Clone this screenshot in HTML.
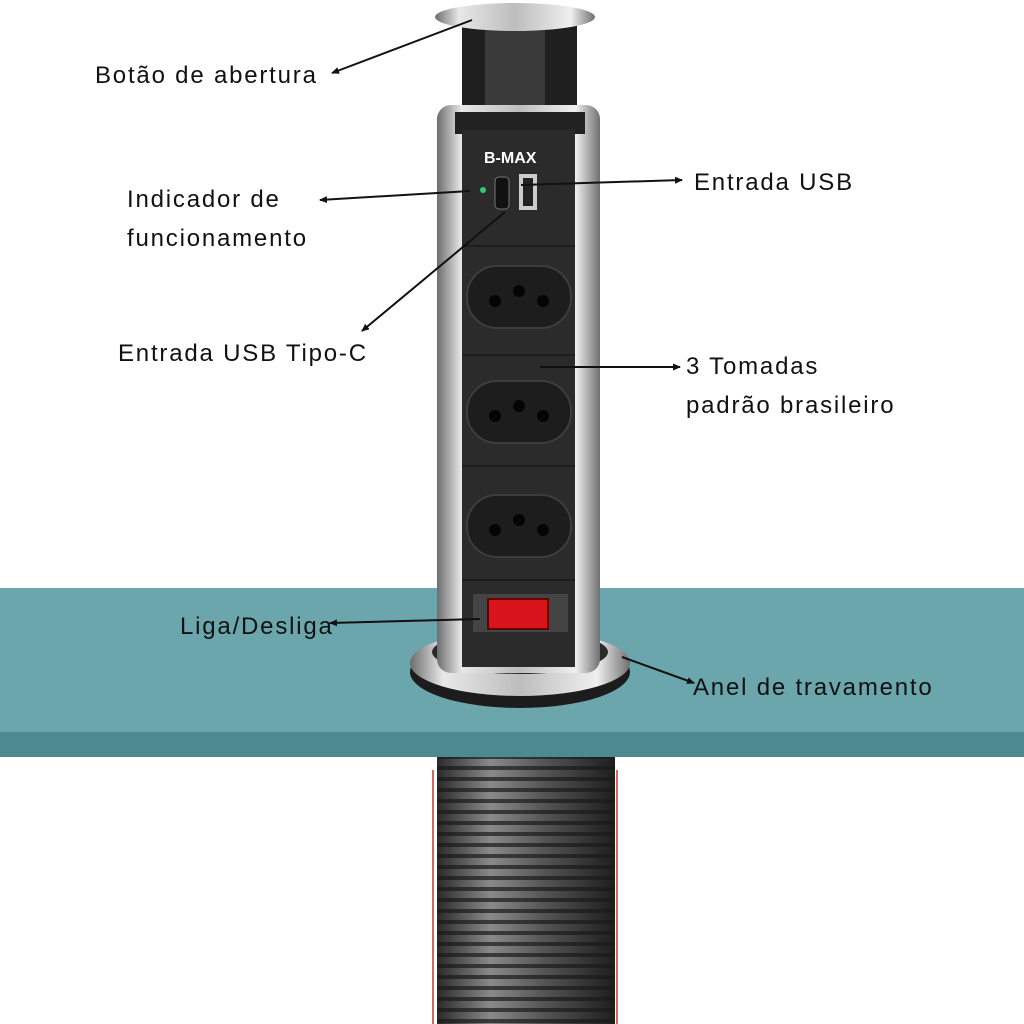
<!DOCTYPE html>
<html><head><meta charset="utf-8"><style>
html,body{margin:0;padding:0;background:#fff;}
svg{display:block;}
text{font-family:"Liberation Sans",sans-serif;font-size:24px;letter-spacing:1.8px;fill:#111;}
</style></head><body>
<svg width="1024" height="1024" viewBox="0 0 1024 1024">
<defs>
<linearGradient id="silv" x1="0" x2="1">
<stop offset="0" stop-color="#6d6d6d"/><stop offset="0.15" stop-color="#e8e8e8"/><stop offset="0.5" stop-color="#bdbdbd"/><stop offset="0.85" stop-color="#efefef"/><stop offset="1" stop-color="#707070"/></linearGradient>
<linearGradient id="thr" x1="0" x2="1">
<stop offset="0" stop-color="#2a2a2a"/><stop offset="0.3" stop-color="#8a8a8a"/><stop offset="0.6" stop-color="#555"/><stop offset="1" stop-color="#1e1e1e"/></linearGradient>
<pattern id="lines" width="10" height="11" patternUnits="userSpaceOnUse"><rect width="10" height="11" fill="none"/><rect y="7" width="10" height="4" fill="#1a1a1a" opacity="0.7"/></pattern>
<marker id="ah" markerWidth="8" markerHeight="8" refX="7" refY="4" orient="auto" markerUnits="userSpaceOnUse"><path d="M0,0.5 L8,4 L0,7.5 z" fill="#111"/></marker>
</defs>
<rect x="437" y="750" width="178" height="274" fill="url(#thr)"/>
<rect x="437" y="750" width="178" height="274" fill="url(#lines)"/>
<line x1="433" y1="770" x2="433" y2="1024" stroke="#c0392b" stroke-width="1.5"/>
<line x1="617" y1="770" x2="617" y2="1024" stroke="#c0392b" stroke-width="1.5"/>
<rect x="0" y="588" width="1024" height="145" fill="#6aa6ab"/>
<rect x="0" y="732" width="1024" height="25" fill="#4d8a90"/>
<ellipse cx="520" cy="672" rx="110" ry="36" fill="#1c1c1c"/>
<ellipse cx="520" cy="663" rx="110" ry="33" fill="url(#silv)"/>
<ellipse cx="520" cy="652" rx="88" ry="22" fill="#2a2a2a"/>
<rect x="462" y="25" width="115" height="95" fill="#1f1f1f"/>
<rect x="485" y="30" width="60" height="85" fill="#3a3a3a"/>
<ellipse cx="515" cy="17" rx="80" ry="14" fill="url(#silv)"/>
<rect x="437" y="105" width="163" height="568" rx="14" fill="url(#silv)"/>
<rect x="455" y="112" width="130" height="22" fill="#222"/>
<rect x="462" y="130" width="113" height="537" fill="#2b2b2b"/>
<text x="484" y="163" style="font-size:16px;font-weight:bold;fill:#fff;letter-spacing:0">B-MAX</text>
<circle cx="483" cy="190" r="3" fill="#2ecc71"/>
<rect x="495" y="177" width="14" height="32" rx="4" fill="#111" stroke="#777"/>
<rect x="519" y="174" width="18" height="36" fill="#ccc"/><rect x="523" y="178" width="10" height="28" fill="#222"/>
<g stroke="#1a1a1a" stroke-width="1.5"><line x1="462" y1="246" x2="575" y2="246"/><line x1="462" y1="355" x2="575" y2="355"/><line x1="462" y1="466" x2="575" y2="466"/><line x1="462" y1="580" x2="575" y2="580"/></g>
<g fill="#1d1d1d" stroke="#3d3d3d" stroke-width="2">
<rect x="467" y="266" width="104" height="62" rx="30"/>
<rect x="467" y="381" width="104" height="62" rx="30"/>
<rect x="467" y="495" width="104" height="62" rx="30"/>
</g>
<g fill="#050505">
<circle cx="495" cy="301" r="6"/><circle cx="519" cy="291" r="6"/><circle cx="543" cy="301" r="6"/>
<circle cx="495" cy="416" r="6"/><circle cx="519" cy="406" r="6"/><circle cx="543" cy="416" r="6"/>
<circle cx="495" cy="530" r="6"/><circle cx="519" cy="520" r="6"/><circle cx="543" cy="530" r="6"/>
</g>
<rect x="473" y="594" width="95" height="38" fill="#444"/>
<rect x="488" y="599" width="60" height="30" fill="#d9131b" stroke="#600" stroke-width="2"/>
<g stroke="#111" stroke-width="2" marker-end="url(#ah)">
<line x1="472" y1="20" x2="332" y2="73"/>
<line x1="470" y1="191" x2="320" y2="200"/>
<line x1="521" y1="185" x2="682" y2="180"/>
<line x1="505" y1="212" x2="362" y2="331"/>
<line x1="540" y1="367" x2="680" y2="367"/>
<line x1="480" y1="619" x2="330" y2="623"/>
<line x1="622" y1="657" x2="694" y2="683"/>
</g>
<text x="95" y="83">Botão de abertura</text>
<text x="127" y="207">Indicador de</text>
<text x="127" y="246">funcionamento</text>
<text x="694" y="190">Entrada USB</text>
<text x="118" y="361">Entrada USB Tipo-C</text>
<text x="686" y="374">3 Tomadas</text>
<text x="686" y="413">padrão brasileiro</text>
<text x="180" y="634">Liga/Desliga</text>
<text x="693" y="695">Anel de travamento</text>
</svg>
</body></html>
